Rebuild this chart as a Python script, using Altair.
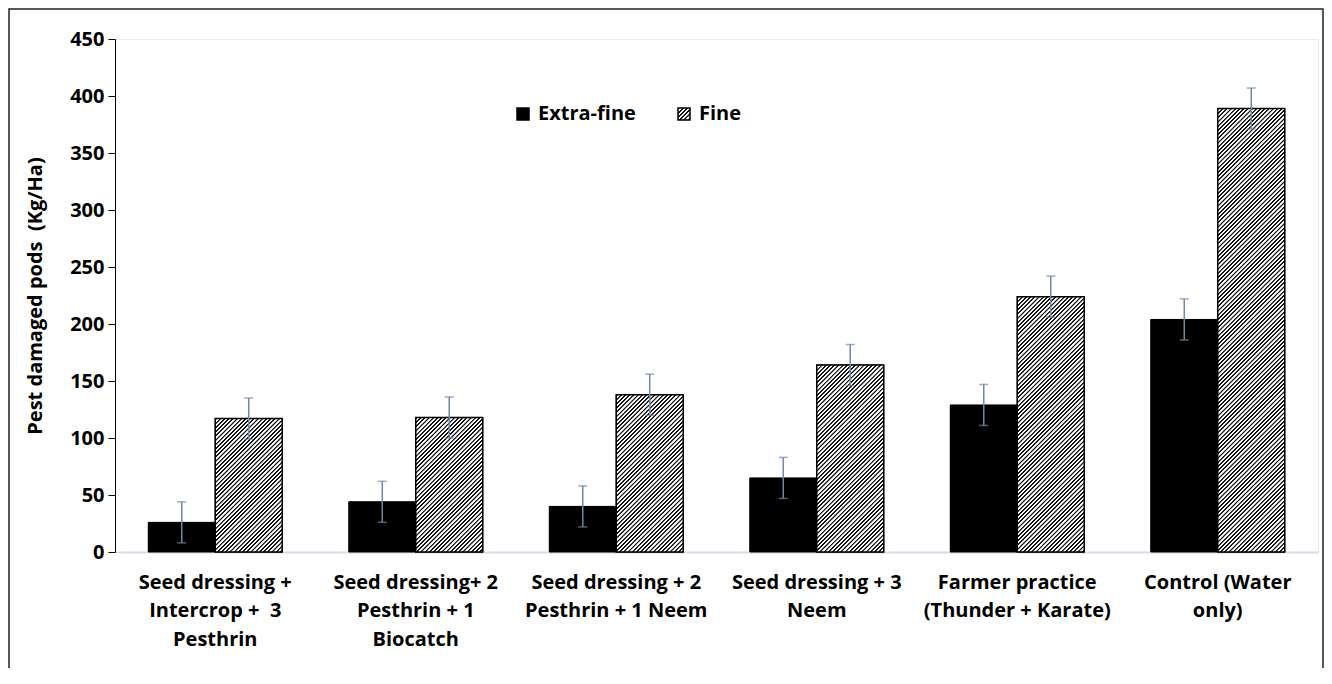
import altair as alt

# ---------------- data ----------------
categories = [
    "Seed dressing +\nIntercrop +\u00a0 3\nPesthrin",
    "Seed dressing+ 2\nPesthrin + 1\nBiocatch",
    "Seed dressing + 2\nPesthrin + 1 Neem",
    "Seed dressing + 3\nNeem",
    "Farmer practice\n(Thunder + Karate)",
    "Control (Water\nonly)",
]
series = ["Extra-fine", "Fine"]
extra_fine = [26, 44, 40, 65, 129, 204]
fine = [117, 118, 138, 164, 224, 389]
extra_fine_err = [18, 18, 18, 18, 18, 18]
fine_err = [18, 18, 18, 18, 18, 18]
y_ticks = [0, 50, 100, 150, 200, 250, 300, 350, 400, 450]

# ---------------- layout / style ----------------
FONT = "Open Sans"
FS = 20
PLOT_W, PLOT_H = 1203, 513
Y_MAX = 450
PAD_IN = 0.332
BAR_W = PLOT_W / len(categories) * (1 - PAD_IN) / 2
PERIOD = 4.2
DARK, LIGHT = "#111111", "#ffffff"
ERR = "#7088aa"


def hatch(w, h):
    """diagonal '/' stripes emulated with a linear gradient (bbox units)"""
    span = w + h
    n = span / PERIOD
    d = w * w + h * h
    x2 = w * span / d
    y2 = h * span / d
    stops = []
    k = 0
    while k < n:
        for frac, col in [(0.0, LIGHT), (0.08, DARK), (0.42, DARK), (0.55, LIGHT)]:
            off = (k + frac) / n
            if off <= 1:
                stops.append({"offset": round(off, 5), "color": col})
        k += 1
    return {"gradient": "linear", "x1": 0, "y1": 0, "x2": round(x2, 5),
            "y2": round(y2, 5), "stops": stops}


def grad_expr(g):
    st = ",".join("{offset:%s,color:'%s'}" % (s["offset"], s["color"]) for s in g["stops"])
    return "{gradient:'linear',x1:0,y1:0,x2:%s,y2:%s,stops:[%s]}" % (g["x2"], g["y2"], st)


rows = []
for i, c in enumerate(categories):
    for s, vals, errs in [("Extra-fine", extra_fine, extra_fine_err), ("Fine", fine, fine_err)]:
        v, e = vals[i], errs[i]
        g = "#000000" if s == "Extra-fine" else hatch(BAR_W, v * PLOT_H / Y_MAX)
        rows.append({"cat": c, "series": s, "value": v, "lo": v - e, "hi": v + e, "grad": g})

source = alt.Data(values=rows)

x_axis = alt.Axis(title=None, labelAngle=0, ticks=False,
                  labelExpr="split(datum.label, '\\n')",
                  labelFontSize=FS, labelFont=FONT, labelFontWeight="bold",
                  labelColor="black", labelPadding=20, labelLineHeight=28.5,
                  labelLimit=300, domainColor="#d6dce8", domainWidth=2)
y_axis = alt.Axis(values=y_ticks, title="Pest damaged pods\u00a0 (Kg/Ha)", grid=False,
                  labelFontSize=FS, labelFont=FONT, labelFontWeight="bold",
                  labelColor="black", labelPadding=4, tickSize=7, tickColor="black",
                  tickWidth=1, domainColor="black", domainWidth=1,
                  titleFontSize=FS, titleFont=FONT, titleFontWeight="bold",
                  titleColor="black", titleX=-74, titleBaseline="alphabetic")

x = alt.X("cat:N", sort=categories,
          scale=alt.Scale(paddingInner=PAD_IN, paddingOuter=PAD_IN / 2), axis=x_axis)
xo = alt.XOffset("series:N", sort=series, scale=alt.Scale(paddingInner=0, paddingOuter=0))
yscale = alt.Scale(domain=[0, Y_MAX], nice=False)

legend_bars = alt.Chart(source).mark_bar(stroke="black", strokeWidth=1).encode(
    x=x, xOffset=xo,
    y=alt.Y("value:Q", stack=None, scale=yscale, axis=y_axis),
    color=alt.Color("series:N", sort=series,
                    scale=alt.Scale(domain=series,
                                    range=["#000000", alt.ExprRef(expr=grad_expr(hatch(12, 12)))]),
                    legend=alt.Legend(title=None, orient="none", legendX=398, legendY=65,
                                      direction="horizontal", symbolType="square",
                                      symbolSize=144, labelFontSize=FS, labelFont=FONT,
                                      labelFontWeight="bold", labelColor="black",
                                      labelOffset=5, columnPadding=38)),
)

bars = alt.Chart(source).mark_bar(strokeWidth=1.5).encode(
    x=x, xOffset=xo,
    y=alt.Y("value:Q", stack=None, scale=yscale, axis=y_axis),
    fill=alt.Fill("grad:N", scale=None),
    stroke=alt.condition("datum.series == 'Fine'", alt.value("black"), alt.value("transparent")),
)

err_rule = alt.Chart(source).mark_rule(color=ERR, strokeWidth=1.5).encode(
    x=x, xOffset=xo,
    y=alt.Y("lo:Q", scale=yscale, axis=y_axis), y2="hi:Q",
)
err_top = alt.Chart(source).mark_tick(color=ERR, thickness=1.5, size=9, orient="horizontal").encode(
    x=x, xOffset=xo, y=alt.Y("hi:Q", scale=yscale, axis=y_axis),
)
err_bot = alt.Chart(source).mark_tick(color=ERR, thickness=1.5, size=9, orient="horizontal").encode(
    x=x, xOffset=xo, y=alt.Y("lo:Q", scale=yscale, axis=y_axis),
)

border = alt.Chart(alt.Data(values=[{"a": 1}])).mark_rect(
    fill="transparent", stroke="#222222", strokeWidth=1.5
).encode(
    x=alt.value(-106), x2=alt.value(PLOT_W + 5),
    y=alt.value(-30), y2=alt.value(PLOT_H + 200),
)

chart = alt.layer(legend_bars, bars, err_rule, err_top, err_bot, border).properties(
    width=PLOT_W, height=PLOT_H,
    padding={"left": 107, "top": 31, "right": 6, "bottom": 116},
    autosize=alt.AutoSizeParams(type="none"),
    background="white",
).configure_view(stroke="#e6ebf3", strokeWidth=1)

chart.save("out.html", embed_options={"renderer": "svg", "actions": False})
